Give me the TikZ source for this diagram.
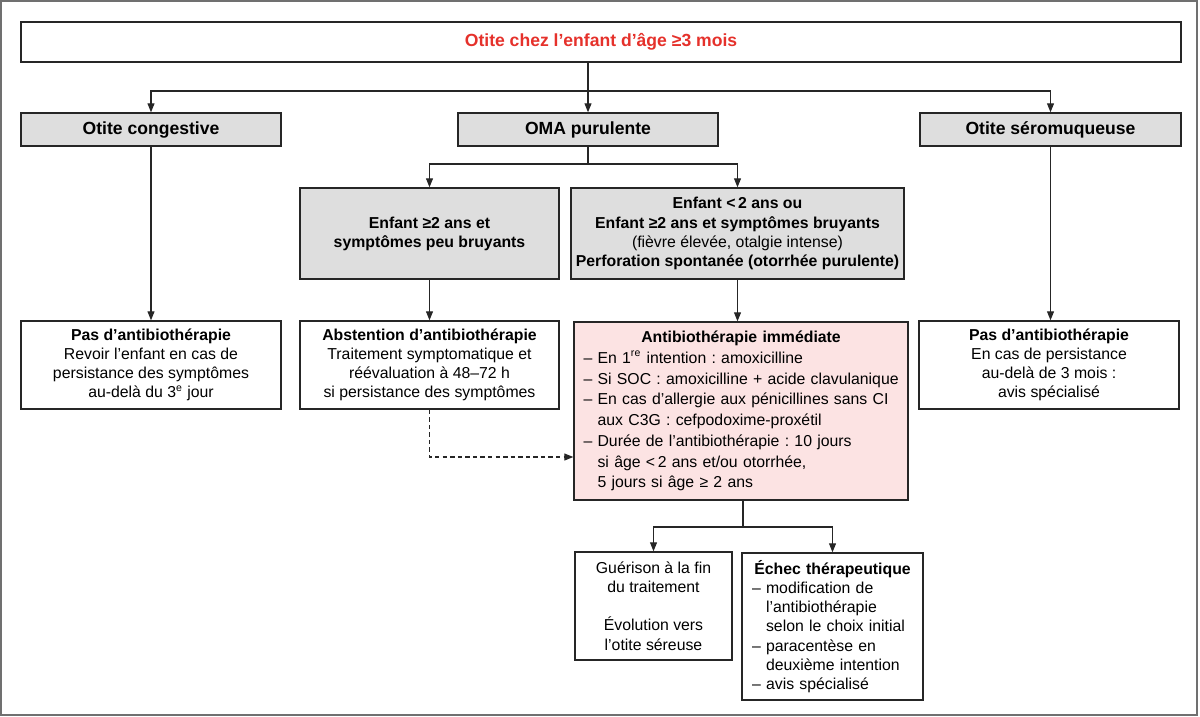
\documentclass[tikz,border=0pt]{standalone}
\usepackage{fontspec}
\setmainfont{Liberation Sans}
\usetikzlibrary{arrows.meta}
\frenchspacing

\definecolor{boxgrey}{HTML}{DEDEDE}
\definecolor{boxpink}{HTML}{FCE3E3}
\definecolor{titlered}{HTML}{E5312B}
\definecolor{linedark}{HTML}{262626}
\definecolor{framegrey}{HTML}{707070}
\newcommand{\ind}{\hphantom{– }}

\begin{document}
\begin{tikzpicture}[
  box/.style={draw=linedark, line width=0.8pt, align=center, inner sep=0pt, font=\fontsize{9}{10.9}\selectfont},
  greybox/.style={box, fill=boxgrey},
  head/.style={font=\fontsize{10}{12}\selectfont\bfseries},
  link/.style={draw=linedark, line width=0.6pt},
  arr/.style={link, -{Triangle[length=1.8mm,width=1.4mm]}}
]
\useasboundingbox (0,0) rectangle (24,-14.32);
\draw[framegrey, line width=0.8pt] (0.02,-0.02) rectangle (23.94,-14.30);

% top: title and the three kinds of otitis
\node[box, head, text=titlered, minimum width=23.2cm, minimum height=0.8cm] (title) at (12.02,-0.84) {Otite chez l’enfant d’âge ≥3 mois};
\node[greybox, head, minimum width=5.2cm, minimum height=0.66cm] (congest) at (3.02,-2.59) {Otite congestive};
\node[greybox, head, minimum width=5.2cm, minimum height=0.66cm] (oma) at (11.76,-2.59) {OMA purulente};
\node[greybox, head, minimum width=5.22cm, minimum height=0.66cm] (sero) at (21.01,-2.59) {Otite séromuqueuse};

% middle: OMA by age
\node[greybox, font=\fontsize{9}{10.9}\selectfont\bfseries, minimum width=5.18cm, minimum height=1.82cm] (enfA) at (8.59,-4.67) {Enfant ≥2 ans et\\symptômes peu bruyants};
\node[greybox, minimum width=6.66cm, minimum height=1.82cm] (enfB) at (14.75,-4.67) {\textbf{Enfant <\,2 ans ou}\\\textbf{Enfant ≥2 ans et symptômes bruyants}\\(fièvre élevée, otalgie intense)\\\textbf{Perforation spontanée (otorrhée purulente)}};

% treatment row
\node[box, minimum width=5.2cm, minimum height=1.76cm] (nonabA) at (3.02,-7.30) {\textbf{Pas d’antibiothérapie}\\Revoir l’enfant en cas de\\persistance des symptômes\\au-delà du 3\textsuperscript{e} jour};
\node[box, minimum width=5.18cm, minimum height=1.76cm] (abst) at (8.59,-7.30) {\textbf{Abstention d’antibiothérapie}\\Traitement symptomatique et\\réévaluation à 48–72 h\\si persistance des symptômes};
\node[box, fill=boxpink, align=left, text width=6.4cm, inner xsep=0.14cm, minimum height=3.56cm, font=\fontsize{9}{11.8}\selectfont] (immed) at (14.82,-8.22) {\makebox[6.4cm]{\textbf{Antibiothérapie immédiate}}\\
\hspace*{0.05cm}– En 1\textsuperscript{re} intention : amoxicilline\\
\hspace*{0.05cm}– Si SOC : amoxicilline + acide clavulanique\\
\hspace*{0.05cm}– En cas d’allergie aux pénicillines sans CI\\
\hspace*{0.05cm}\ind aux C3G : cefpodoxime-proxétil\\
\hspace*{0.05cm}– Durée de l’antibiothérapie : 10 jours\\
\hspace*{0.05cm}\ind si âge <\,2 ans et/ou otorrhée,\\
\hspace*{0.05cm}\ind 5 jours si âge ≥ 2 ans};
\node[box, minimum width=5.2cm, minimum height=1.76cm] (nonabB) at (20.98,-7.30) {\textbf{Pas d’antibiothérapie}\\En cas de persistance\\au-delà de 3 mois :\\avis spécialisé};

% bottom: outcome
\node[box, minimum width=3.14cm, minimum height=2.16cm] (guer) at (13.07,-12.12) {Guérison à la fin\\du traitement\\[10.9pt]Évolution vers\\l’otite séreuse};
\node[box, align=left, text width=3.22cm, inner xsep=0.2cm, minimum height=2.94cm] (echec) at (16.65,-12.53) {\makebox[3.22cm]{\textbf{Échec thérapeutique}}\\– modification de\\\ind l’antibiothérapie\\\ind selon le choix initial\\– paracentèse en\\\ind deuxième intention\\– avis spécialisé};

% connectors
\coordinate (split1) at (11.76,-1.82);
\draw[link] (title.south -| split1) -- (split1);
\draw[arr] (split1) -| (congest);
\draw[arr] (split1) -- (oma);
\draw[arr] (split1) -| (sero);
\coordinate (split2) at (11.76,-3.28);
\draw[link] (oma) -- (split2);
\draw[arr] (split2) -| (enfA);
\draw[arr] (split2) -| (enfB);
\draw[arr] (congest) -- (congest |- nonabA.north);
\draw[arr] (sero) -- (sero |- nonabB.north);
\draw[arr] (enfA) -- (abst);
\draw[arr] (enfB.south) -- (enfB.south |- immed.north);
\draw[arr, dash pattern=on 2.5pt off 1.8pt] (abst.south) |- ([yshift=-0.92cm]immed.west);
\coordinate (split3) at (14.86,-10.54);
\draw[link] (immed.south -| split3) -- (split3);
\draw[arr] (split3) -| (guer);
\draw[arr] (split3) -| (echec);
\end{tikzpicture}
\end{document}
